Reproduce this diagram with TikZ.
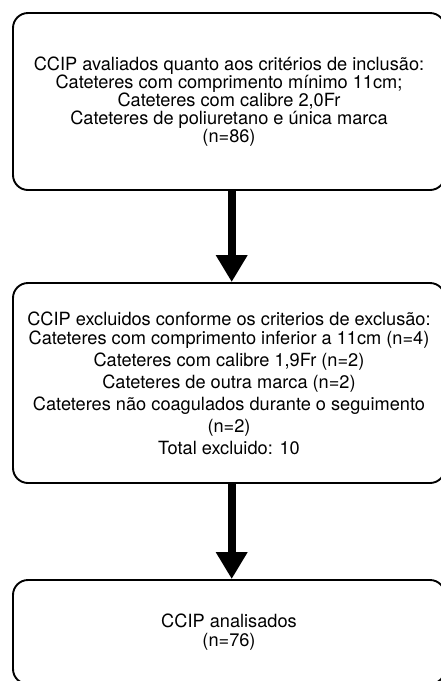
\documentclass[tikz,border=0pt]{standalone}
\usepackage{fontspec}
\setmainfont{TeX Gyre Heros}
\usetikzlibrary{arrows.meta}
\lineskiplimit=-100pt
\begin{document}
\begin{tikzpicture}[x=1pt,y=-1pt,
  box/.style={draw, line width=1.9pt, rounded corners=15pt, minimum width=432pt,
    align=center, inner sep=0pt, text=black},
  bigarrow/.style={line width=8pt, -{Triangle[width=30pt,length=27pt]}}]
\useasboundingbox (0,0) rectangle (441,681);
\clip (0,0) rectangle (441,681);
\node[box, minimum height=177pt, font=\fontsize{18.2}{18}\selectfont] (b1) at (229,101.5)
  {CCIP avaliados quanto aos critérios de inclusão:\\
   Cateteres com comprimento mínimo 11cm;\\
   Cateteres com calibre 2,0Fr\\
   Cateteres de poliuretano e única marca\\
   (n=86)};
\node[box, minimum height=200pt, font=\fontsize{18.2}{22}\selectfont] (b2) at (229,383)
  {CCIP excluidos conforme os criterios de exclusão:\\[-3pt]
   Cateteres com comprimento inferior a 11cm (n=4)\\
   Cateteres com calibre 1,9Fr (n=2)\\
   Cateteres de outra marca (n=2)\\
   Cateteres não coagulados durante o seguimento\\
   (n=2)\\
   Total excluido: 10};
\node[box, minimum height=104pt, font=\fontsize{18.2}{19}\selectfont] (b3) at (229,632)
  {CCIP analisados\\
   (n=76)};
\coordinate (ax) at (231.7,0);
\draw[bigarrow] (b1.south -| ax) -- (b2.north -| ax);
\draw[bigarrow] (b2.south -| ax) -- (b3.north -| ax);
\end{tikzpicture}
\end{document}
